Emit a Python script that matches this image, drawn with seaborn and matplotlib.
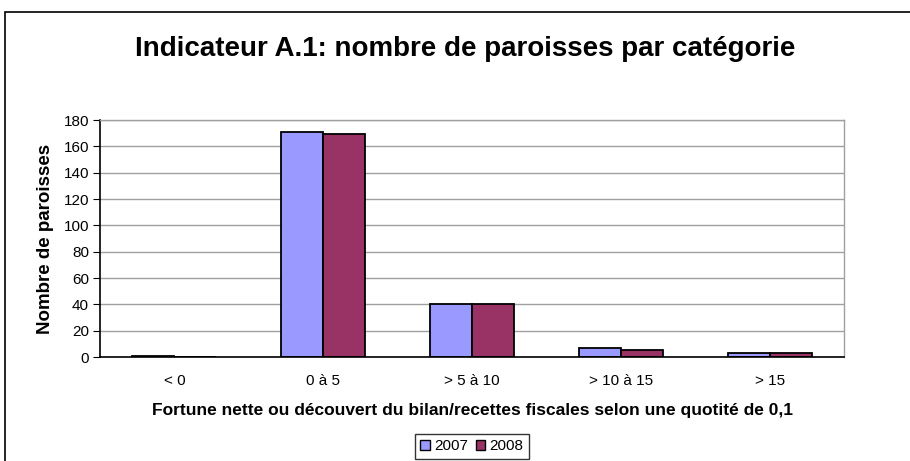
import numpy as np
import pandas as pd
import matplotlib
matplotlib.use("Agg")
import matplotlib.pyplot as plt
from matplotlib.patches import Rectangle, Patch
import seaborn as sns

categories = ["< 0", "0 à 5", "> 5 à 10", "> 10 à 15", "> 15"]
years = ["2007", "2008"]
values_2007 = [1, 171, 40, 7, 3]
values_2008 = [0, 169, 40, 5, 3]
colors = ["#9999FF", "#993366"]

df = pd.DataFrame({
    "categorie": categories * 2,
    "annee": [years[0]] * len(categories) + [years[1]] * len(categories),
    "nombre": values_2007 + values_2008,
})

sns.set_style("white")
plt.rcParams["font.family"] = ["Liberation Sans", "DejaVu Sans"]
plt.rcParams["text.color"] = "black"
plt.rcParams["axes.labelcolor"] = "black"
plt.rcParams["xtick.color"] = "black"
plt.rcParams["ytick.color"] = "black"

fig = plt.figure(figsize=(9.1, 4.61), dpi=100)
ax = fig.add_axes([100 / 910, 1 - 357 / 461, 744 / 910, 237 / 461])

sns.barplot(data=df, x="categorie", y="nombre", hue="annee", palette=colors,
            saturation=1, width=0.565, edgecolor="black", linewidth=1.3,
            ax=ax, legend=False)

ax.set_ylim(0, 180)
ax.set_xlim(-0.5, len(categories) - 0.5)
ax.set_yticks(np.arange(0, 181, 20))
ax.yaxis.grid(True, color="#a0a0a0", linewidth=1)
ax.set_axisbelow(True)

ax.set_xticks(np.arange(len(categories)))
ax.set_xticklabels(categories, fontsize=11)
ax.set_xticks(np.arange(-0.5, len(categories), 1), minor=True)
ax.tick_params(axis="x", which="major", length=0, pad=12)
ax.tick_params(axis="x", which="minor", length=5, direction="out", color="black")
ax.tick_params(axis="y", length=5, direction="out", color="black", labelsize=11, left=True, pad=3)

for s in ["left", "bottom"]:
    ax.spines[s].set_color("black")
    ax.spines[s].set_linewidth(1.2)
for s in ["top", "right"]:
    ax.spines[s].set_visible(True)
    ax.spines[s].set_color("#a0a0a0")
    ax.spines[s].set_linewidth(1)

ax.set_ylabel("Nombre de paroisses", fontsize=13.5, fontweight="bold", labelpad=7)
ax.set_xlabel("Fortune nette ou découvert du bilan/recettes fiscales selon une quotité de 0,1",
              fontsize=12.5, fontweight="bold")
ax.xaxis.set_label_coords(0.5, -0.195)

fig.text(465 / 910, 0.893, "Indicateur A.1: nombre de paroisses par catégorie",
         ha="center", va="center", fontsize=20, fontweight="bold")

handles = [Patch(facecolor=c, edgecolor="black", label=y) for c, y in zip(colors, years)]
fig.legend(handles=handles, loc="upper center", bbox_to_anchor=(472 / 910, 1 - 434 / 461), ncol=2,
           fontsize=11, frameon=True, fancybox=False, edgecolor="black",
           handlelength=0.6, handleheight=0.6, handletextpad=0.3, columnspacing=0.5,
           borderpad=0.35, borderaxespad=0)

fig.patches.append(Rectangle((5 / 910, -0.1), 1.2, 1.1 - 12 / 461, transform=fig.transFigure,
                             fill=False, edgecolor="black", linewidth=1.2))

fig.savefig("out.png", dpi=100)
